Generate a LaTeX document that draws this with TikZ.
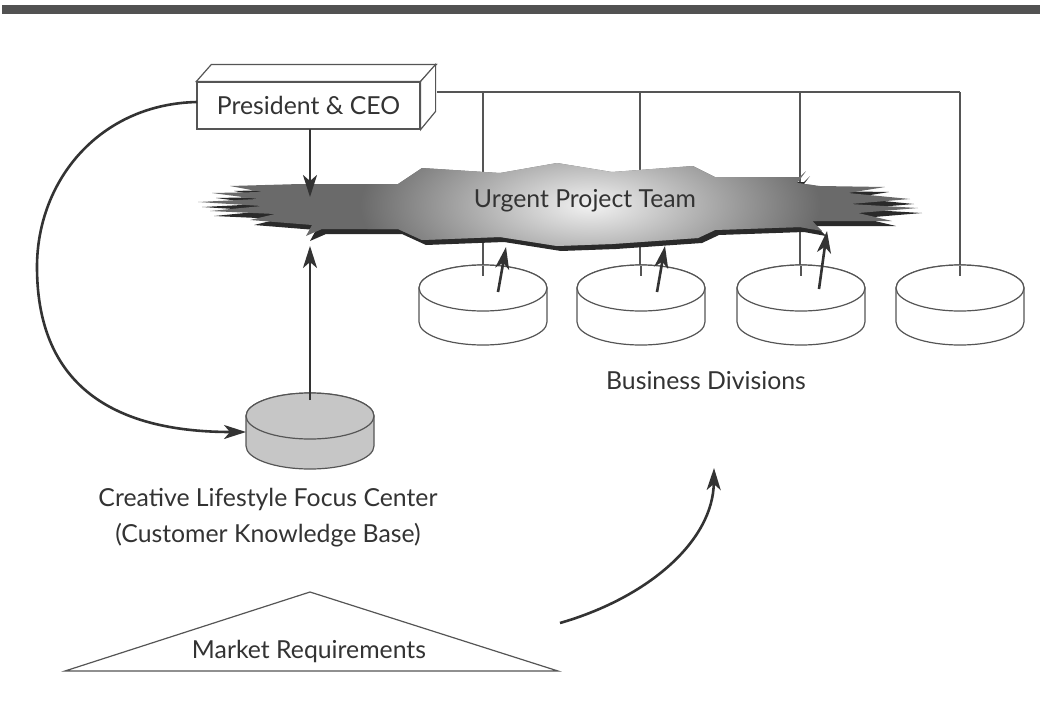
\documentclass[tikz,border=0pt]{standalone}
\usepackage{fontspec}
\setmainfont{Lato}
\usetikzlibrary{arrows.meta}
\definecolor{ink}{HTML}{333333}
\definecolor{linegray}{HTML}{555555}
\definecolor{burstdark}{HTML}{6A6A6A}
\definecolor{burstshadow}{HTML}{2A2A2A}
\definecolor{discgray}{HTML}{C6C6C6}
\newcommand{\burstpath}{(300,184) -- (398,184) -- (422,168) -- (500,173) -- (557,163) -- (612,172) -- (693,166) -- (715,177) -- (800,177) -- (806,171) -- (797,183) -- (820,186) -- (885,187) -- (848,193) -- (910,199) -- (850,204) -- (918,208) -- (858,213) -- (892,221) -- (812,221) -- (822,231) -- (800,227) -- (715,230) -- (698,238) -- (612,244) -- (557,246) -- (500,237) -- (422,240) -- (398,229) -- (322,229) -- (306,236) -- (312,225) -- (250,220) -- (275,214) -- (210,211) -- (262,206) -- (198,202) -- (258,199) -- (212,193) -- (262,192) -- (230,186) -- cycle}
\newcommand{\drawdisc}[5]{% name, cx, cy, fill, side height
  \begin{scope}[shift={(#2,#3)}]
    \path[thinline, fill=#4] (-64,0) -- (-64,#5) arc[start angle=180, end angle=0, x radius=64, y radius=23] -- (64,0) arc[start angle=0, end angle=-180, x radius=64, y radius=23] -- cycle;
    \path[thinline, fill=#4] (0,0) ellipse[x radius=64, y radius=23];
    \coordinate (#1) at (0,0);
  \end{scope}}
\begin{document}
\begin{tikzpicture}[x=0.5pt,y=-0.5pt,
  thinline/.style={draw=linegray, line width=0.6pt},
  arrowline/.style={draw=ink, line width=1.3pt, -{Stealth[length=11pt,width=7pt,inset=3pt]}},
  txt/.style={font=\fontsize{12.4}{14}\selectfont, text=ink, inner sep=0pt, align=center}]
\useasboundingbox (0,0) rectangle (1061,723);
% top rule
\fill[ink!85] (2,5) rectangle (1040,14);
% org lines from CEO to divisions
\coordinate (busline) at (960,92);
\draw[thinline] (437,92) -- (busline);
\foreach \x in {483,640,800,960} { \draw[thinline] (\x,92) -- (\x,276); }
% starburst
\fill[burstshadow, shift={(4,5)}] \burstpath;
\fill[burstdark] \burstpath;
\begin{scope}
  \clip \burstpath;
  \shade[inner color=white!95!black, outer color=burstdark] (590,205) ellipse[x radius=230, y radius=95];
\end{scope}
\node[txt] (upt) at (585,201) {Urgent Project Team};
% CEO box
\node[txt, draw=linegray, line width=0.6pt, fill=white, minimum width=111.5pt, minimum height=23.5pt] (ceo) at (308.5,105.5) {President \& CEO};
\draw[thinline, fill=white] (ceo.north west) -- ++(15,-17) -- ++(225,0) -- (ceo.north east) -- cycle;
\draw[thinline, fill=white] (ceo.north east) -- ++(15,-17) -- ++(0,47) -- (ceo.south east) -- cycle;
\coordinate (ceoS) at (310,129);
\coordinate (ceoW) at (197,102);
\coordinate (burstTop) at (310,197);
\draw[arrowline] (ceoS) -- (burstTop);
% divisions
\drawdisc{bd1}{483}{288}{white}{34}
\drawdisc{bd2}{641}{288}{white}{34}
\drawdisc{bd3}{801}{288}{white}{34}
\drawdisc{bd4}{960}{288}{white}{34}
\foreach \x in {483,641,801,960} { \draw[thinline] (\x,266) -- (\x,276); }
\coordinate (a1s) at (498,292); \coordinate (a1e) at (506,247);
\coordinate (a2s) at (657,292); \coordinate (a2e) at (665,246);
\coordinate (a3s) at (819,289); \coordinate (a3e) at (827,231);
\draw[arrowline] (a1s) -- (a1e);
\draw[arrowline] (a2s) -- (a2e);
\draw[arrowline] (a3s) -- (a3e);
\node[txt] (bdlabel) at (706,381) {Business Divisions};
% creative lifestyle focus center
\drawdisc{clfc}{310}{416}{discgray}{30}
\coordinate (clfcTop) at (310,400);
\coordinate (burstBot) at (310,246);
\draw[arrowline] (clfcTop) -- (burstBot);
\coordinate (clfcW) at (246,432);
\draw[arrowline] (ceoW) .. controls (100,104) and (37,180) .. (37,267) .. controls (37,392) and (122,432) .. (clfcW);
\node[txt] (clfclabel) at (268,518) {Creative Lifestyle Focus Center\\[4pt](Customer Knowledge Base)};
% market requirements
\draw[thinline, fill=white] (65,671) -- (310,592) -- (558,671) -- cycle;
\node[txt] (mr) at (309,651) {Market Requirements};
\coordinate (mrE) at (560,623);
\coordinate (bdBelow) at (714,468);
\draw[arrowline] (mrE) .. controls (650,597) and (713,540) .. (bdBelow);
\end{tikzpicture}
\end{document}
